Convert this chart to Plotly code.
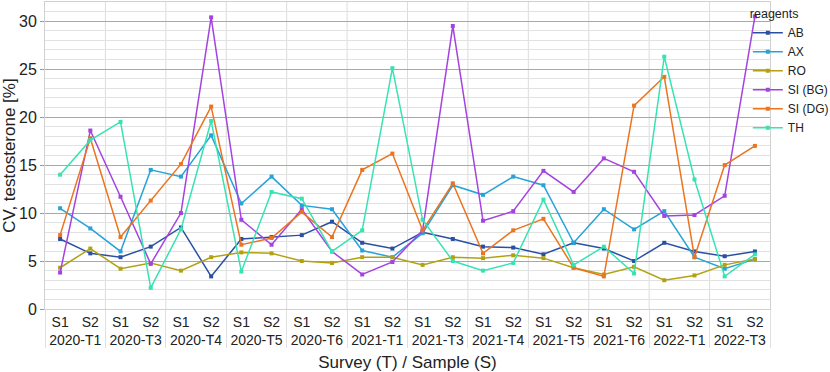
import plotly.graph_objects as go

surveys = ["2020-T1", "2020-T3", "2020-T4", "2020-T5", "2020-T6", "2021-T1",
           "2021-T3", "2021-T4", "2021-T5", "2021-T6", "2022-T1", "2022-T3"]
samples = ["S1", "S2"]

AB = [7.3, 5.8, 5.4, 6.5, 8.5, 3.4, 7.3, 7.5, 7.7, 9.1, 6.9, 6.3,
      8.0, 7.3, 6.5, 6.4, 5.7, 6.9, 6.3, 5.0, 6.9, 6.0, 5.5, 6.0]
AX = [10.5, 8.4, 6.0, 14.5, 13.8, 18.1, 11.0, 13.8, 10.8, 10.4, 6.1, 5.4,
      7.9, 12.9, 11.9, 13.8, 12.9, 6.9, 10.4, 8.3, 10.2, 5.4, 4.2, 5.2]
RO = [4.3, 6.3, 4.2, 4.8, 4.0, 5.4, 5.9, 5.8, 5.0, 4.8, 5.4, 5.4,
      4.6, 5.4, 5.3, 5.6, 5.3, 4.3, 3.6, 4.4, 3.0, 3.5, 4.6, 5.2]
SI_BG = [3.8, 18.6, 11.7, 4.7, 10.0, 30.4, 9.3, 6.7, 10.4, 6.0, 3.6, 4.9,
         8.2, 29.5, 9.2, 10.2, 14.4, 12.2, 15.7, 14.3, 9.7, 9.8, 11.8, 30.5]
SI_DG = [7.7, 17.8, 7.5, 11.3, 15.1, 21.1, 6.7, 7.4, 10.1, 7.5, 14.5, 16.2,
         8.2, 13.1, 5.8, 8.2, 9.4, 4.3, 3.4, 21.2, 24.2, 5.4, 15.0, 17.0]
TH = [14.0, 17.6, 19.5, 2.2, 8.3, 19.6, 3.9, 12.2, 11.5, 6.0, 8.2, 25.1,
      9.3, 5.0, 4.0, 4.8, 11.4, 4.6, 6.5, 3.7, 26.3, 13.5, 3.4, 5.7]

series = [("AB", AB, "#2950a3"), ("AX", AX, "#27a3d8"), ("RO", RO, "#b2a212"),
          ("SI (BG)", SI_BG, "#a443e0"), ("SI (DG)", SI_DG, "#ec7420"),
          ("TH", TH, "#38e3b2")]

xcat = [[s for s in surveys for _ in samples], [p for _ in surveys for p in samples]]
ncat = len(surveys) * len(samples)

fig = go.Figure()
for name, vals, col in series:
    fig.add_trace(go.Scatter(x=xcat, y=vals, name=name, mode="lines+markers",
                             line=dict(color=col, width=1.5),
                             marker=dict(color=col, size=4, symbol="square")))

shapes = []
for k in range(1, len(surveys)):
    pos = k * len(samples) - 0.5
    shapes.append(dict(type="line", xref="x", yref="paper", x0=pos, x1=pos, y0=0, y1=1,
                       line=dict(color="#dcdcdc", width=1), layer="below"))

fig.update_layout(
    width=830, height=372,
    margin=dict(l=45, r=60, t=2, b=63, autoexpand=False),
    paper_bgcolor="white", plot_bgcolor="white",
    font=dict(family="Liberation Sans, Arial, sans-serif", color="#222222"),
    shapes=shapes,
    legend=dict(title=dict(text="reagents", font=dict(size=12.5)), font=dict(size=12),
                x=0.901, xref="container", xanchor="left", y=1.0, yanchor="top",
                bgcolor="rgba(0,0,0,0)", itemwidth=30, tracegroupgap=0),
    xaxis=dict(type="multicategory", range=[-0.5, ncat - 0.5], showgrid=False,
               showline=True, linecolor="#d0d0d0",
               mirror=True, ticks="", tickfont=dict(size=14), tickangle=0, automargin=False,
               showdividers=True, dividercolor="#e0e0e0", dividerwidth=1,
               title=dict(text="Survey (T) / Sample (S)", font=dict(size=17), standoff=9)),
    yaxis=dict(range=[0, 32], dtick=5, showgrid=True, gridcolor="#a8a8a8", gridwidth=1,
               minor=dict(dtick=1, showgrid=True, gridcolor="#e2e2e2", gridwidth=1),
               showline=True, linecolor="#d0d0d0", mirror=True, automargin=False,
               ticks="outside", ticklen=4, tickcolor="#999999", tickfont=dict(size=16),
               zeroline=False,
               title=dict(text="CV, testosterone [%]", font=dict(size=17), standoff=4)),
)

fig.write_html("out.html", config={"displayModeBar": False},
               post_script="document.body.style.margin='0';")
